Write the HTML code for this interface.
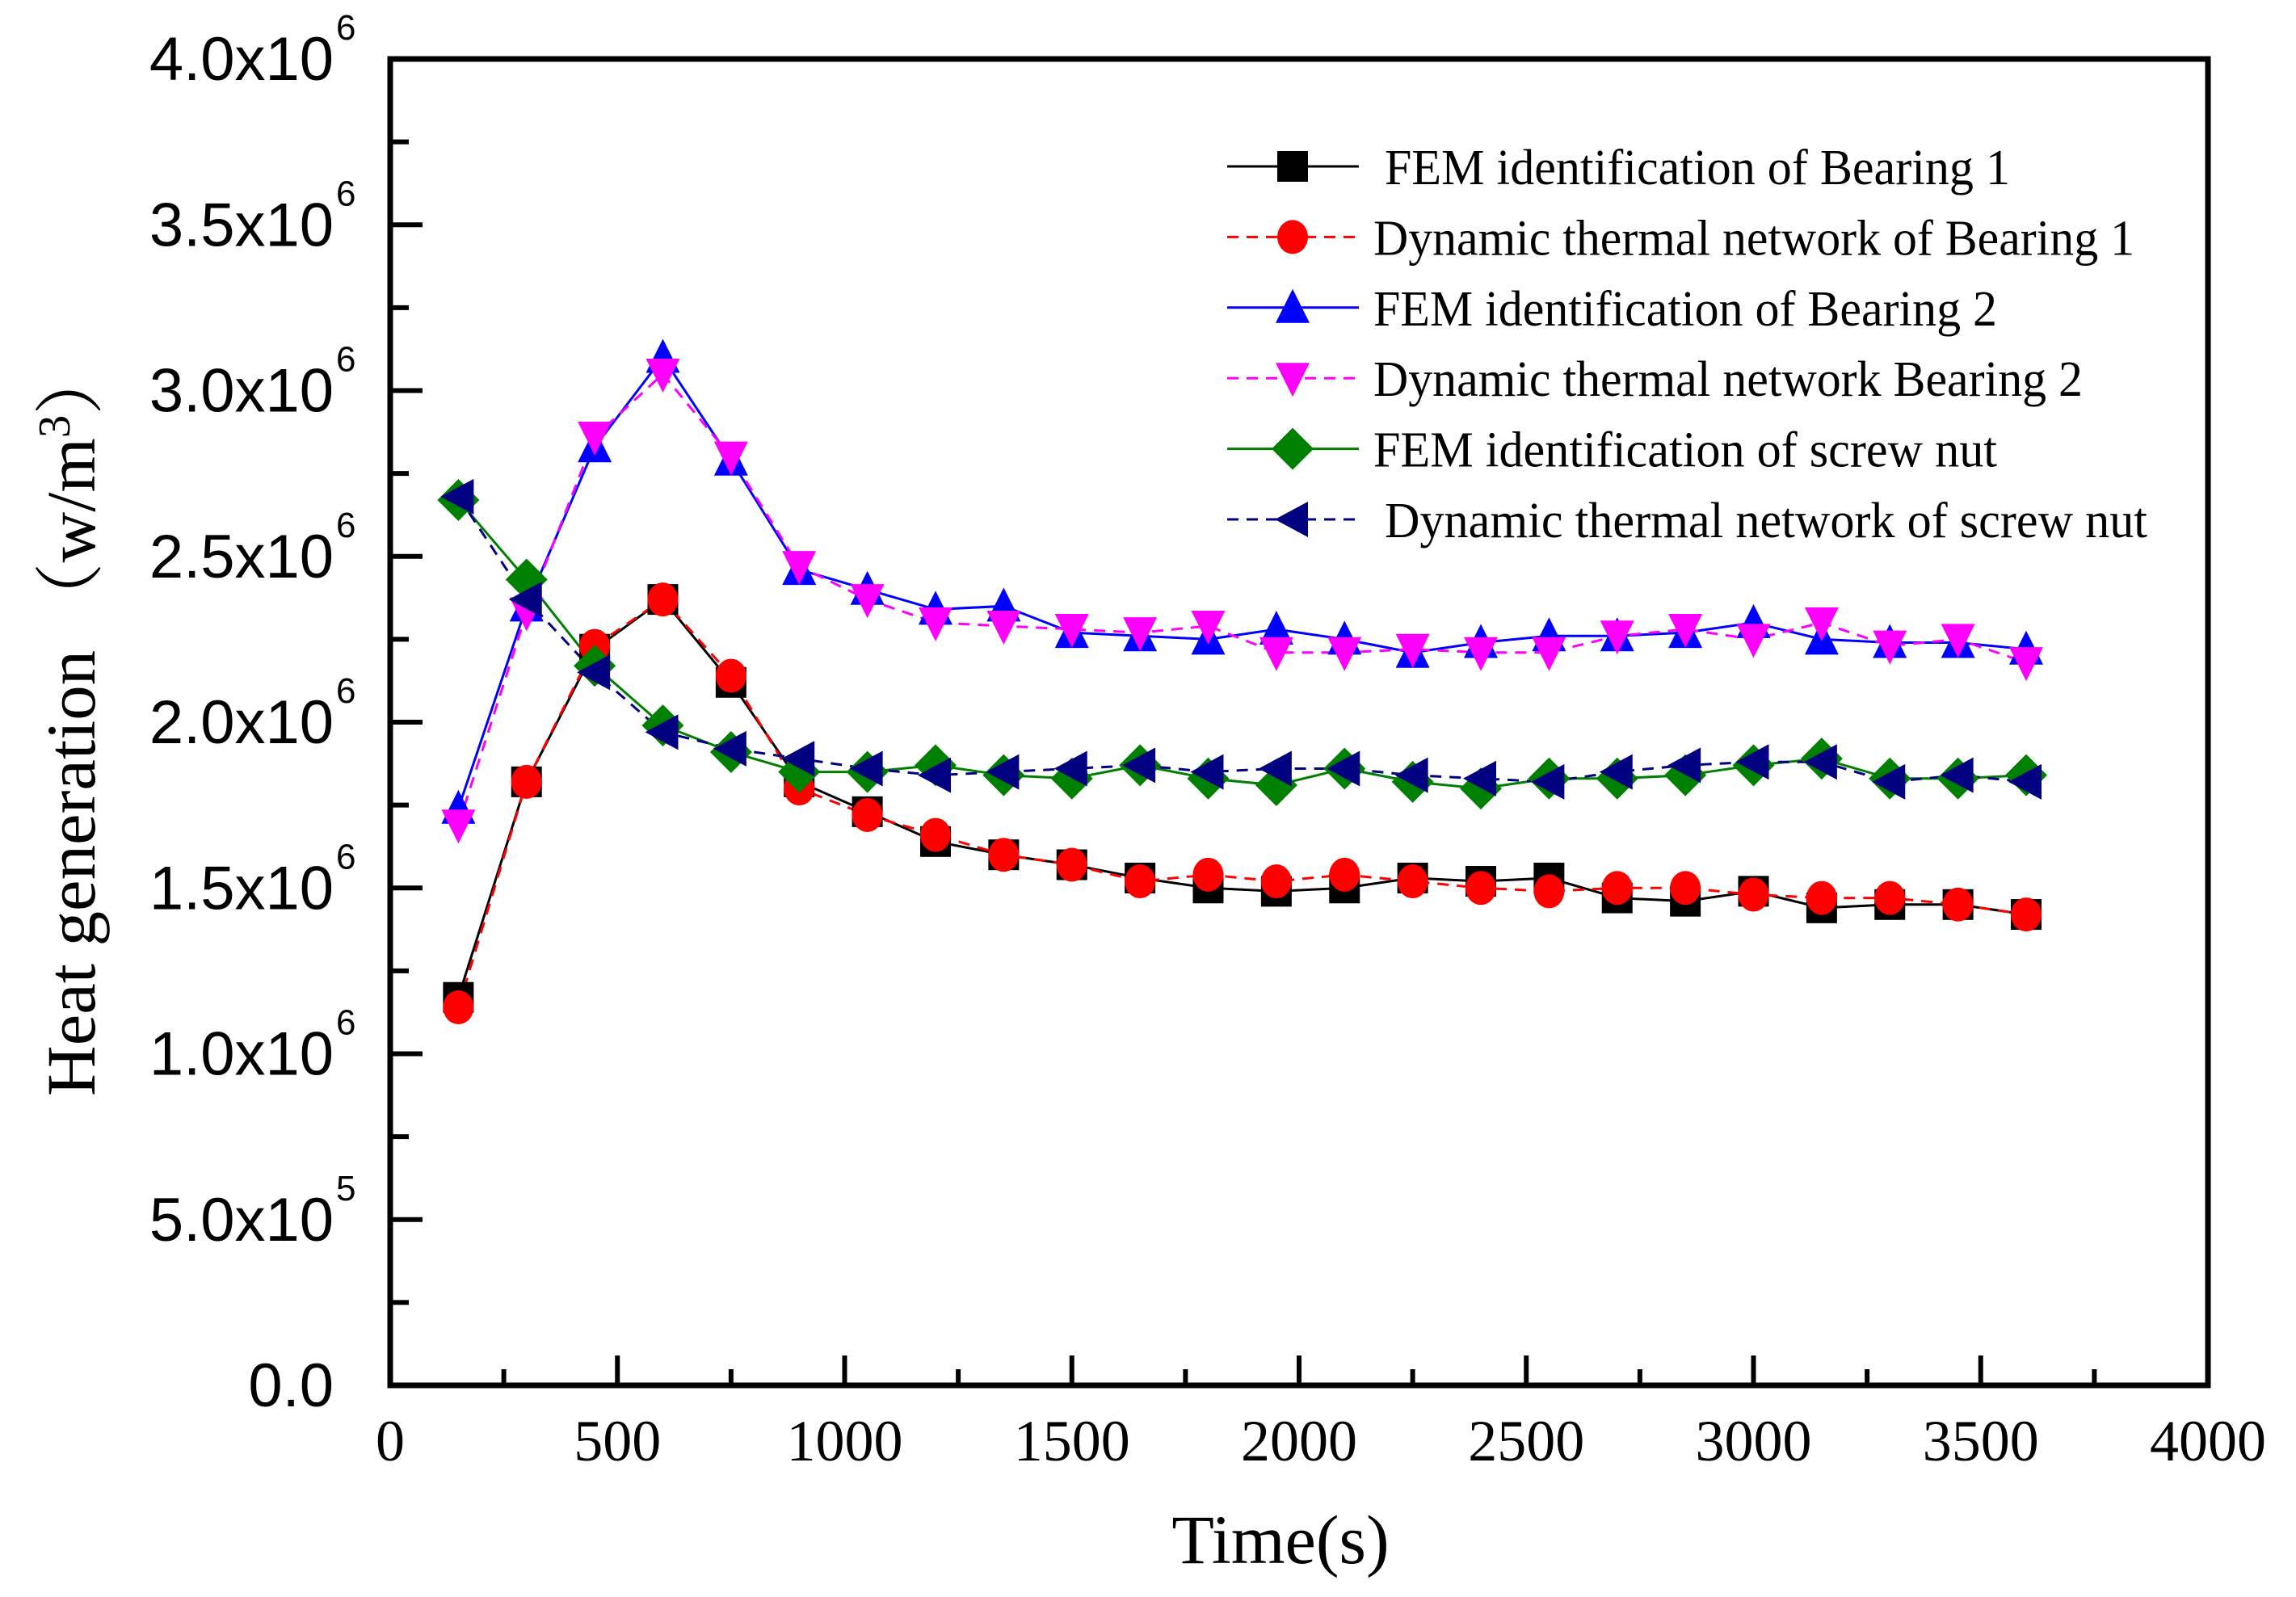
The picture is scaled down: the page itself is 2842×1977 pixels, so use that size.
<!DOCTYPE html>
<html><head><meta charset="utf-8"><style>
html,body{margin:0;padding:0;background:#fff}
svg{display:block}
</style></head><body>
<svg id="chart" width="2842" height="1977" viewBox="0 0 2842 1977" xmlns="http://www.w3.org/2000/svg">
<rect width="2842" height="1977" fill="#fff"/>
<g id="plot"></g>
<g id="axes"></g>
<g id="legend"></g>
<text x="1585" y="1935" font-family="Liberation Serif, serif" font-size="86" text-anchor="middle">Time(s)</text>
<text transform="translate(117,892) rotate(-90)" font-family="Liberation Serif, 'Noto Serif CJK SC', serif" font-size="86" text-anchor="middle" textLength="930" lengthAdjust="spacingAndGlyphs">Heat generation （w/m<tspan baseline-shift="super" font-size="56">3</tspan>）</text>
</svg>
<script>
const times = [150,300,450,600,750,900,1050,1200,1350,1500,1650,1800,1950,2100,2250,2400,2550,2700,2850,3000,3150,3300,3450,3600];
const femBearing1 = [1.17,1.82,2.22,2.37,2.12,1.82,1.73,1.64,1.60,1.57,1.53,1.50,1.49,1.50,1.53,1.52,1.53,1.47,1.46,1.49,1.44,1.45,1.45,1.42];
const dtnBearing1 = [1.14,1.82,2.23,2.37,2.14,1.80,1.72,1.66,1.60,1.57,1.52,1.54,1.52,1.54,1.52,1.50,1.49,1.50,1.50,1.48,1.47,1.47,1.45,1.42];
const femBearing2 = [1.74,2.35,2.83,3.10,2.79,2.46,2.40,2.34,2.35,2.27,2.26,2.25,2.28,2.25,2.21,2.24,2.26,2.26,2.27,2.30,2.25,2.24,2.24,2.22];
const dtnBearing2 = [1.69,2.33,2.86,3.05,2.80,2.47,2.37,2.30,2.29,2.28,2.27,2.29,2.21,2.21,2.22,2.21,2.21,2.26,2.28,2.25,2.30,2.23,2.25,2.18];
const femNut = [2.67,2.43,2.17,1.99,1.91,1.85,1.85,1.87,1.84,1.83,1.87,1.83,1.81,1.86,1.82,1.80,1.83,1.83,1.84,1.87,1.89,1.83,1.83,1.84];
const dtnNut = [2.68,2.37,2.15,1.97,1.92,1.89,1.86,1.84,1.85,1.86,1.87,1.85,1.86,1.86,1.84,1.83,1.82,1.85,1.87,1.88,1.88,1.82,1.84,1.82];
const xTicks = [0,500,1000,1500,2000,2500,3000,3500,4000];
const yTickMant = ["0.0","5.0x10","1.0x10","1.5x10","2.0x10","2.5x10","3.0x10","3.5x10","4.0x10"];
const yTickExp = ["","5","6","6","6","6","6","6","6"];
const legendLabels = ["FEM identification of Bearing 1","Dynamic thermal network of Bearing 1","FEM identification of Bearing 2","Dynamic thermal network Bearing 2","FEM identification of screw nut","Dynamic thermal network of screw nut"];

const L=483,R=2733,T=73,B=1715;
const sx=v=>L+(v/4000)*(R-L);
const sy=v=>B-(v/4)*(B-T);
const NS="http://www.w3.org/2000/svg";
function mk(tag,attrs,parent){const e=document.createElementNS(NS,tag);for(const k in attrs)e.setAttribute(k,attrs[k]);parent.appendChild(e);return e;}
const plot=document.getElementById('plot'),axes=document.getElementById('axes'),legend=document.getElementById('legend');

function marker(type,x,y,color,parent){
  const s=19;
  if(type==='square') return mk('rect',{x:x-s,y:y-s,width:2*s,height:2*s,fill:color},parent);
  if(type==='circle') return mk('ellipse',{cx:x,cy:y,rx:s,ry:s+2,fill:color},parent);
  if(type==='up') return mk('polygon',{points:`${x},${y-s-4} ${x-s-2},${y+s} ${x+s+2},${y+s}`,fill:color},parent);
  if(type==='down') return mk('polygon',{points:`${x},${y+s+4} ${x-s-2},${y-s} ${x+s+2},${y-s}`,fill:color},parent);
  if(type==='diamond') return mk('polygon',{points:`${x},${y-s-7} ${x+s+7},${y} ${x},${y+s+7} ${x-s-7},${y}`,fill:color},parent);
  if(type==='left') return mk('polygon',{points:`${x-s-3},${y} ${x+s},${y-s-3} ${x+s},${y+s+3}`,fill:color},parent);
}
const series=[
 {name:'fem-bearing-1',data:femBearing1,color:'#000000',m:'square',dash:''},
 {name:'dtn-bearing-1',data:dtnBearing1,color:'#ff0000',m:'circle',dash:'14 10'},
 {name:'fem-bearing-2',data:femBearing2,color:'#0000ff',m:'up',dash:''},
 {name:'dtn-bearing-2',data:dtnBearing2,color:'#ff00ff',m:'down',dash:'14 10'},
 {name:'fem-screw-nut',data:femNut,color:'#008000',m:'diamond',dash:''},
 {name:'dtn-screw-nut',data:dtnNut,color:'#000080',m:'left',dash:'14 10'}
];
series.forEach(s=>{
  const g=mk('g',{},plot);
  
  
  const pts=s.data.map((v,i)=>sx(times[i])+','+sy(v)).join(' ');
  const pl=mk('polyline',{points:pts,fill:'none',stroke:s.color,'stroke-width':3,'stroke-dasharray':s.dash},g);
  
  
});
series.forEach(s=>{
  s.data.forEach((v,i)=>{
    const e=marker(s.m,sx(times[i]),sy(v),s.color,plot);
    
    
  });
});
const fr=mk('rect',{x:L,y:T,width:R-L,height:B-T,fill:'none',stroke:'#000','stroke-width':7},axes);


for(let v=0;v<=4000;v+=250){
  const major=v%500===0;
  const t=mk('line',{x1:sx(v),x2:sx(v),y1:B,y2:B-(major?37:20),stroke:'#000','stroke-width':6},axes);
  
  
}
xTicks.forEach(v=>{
  const t=mk('text',{x:sx(v),y:1808,'font-family':'Liberation Serif, serif','font-size':72,'text-anchor':'middle'},axes);
  t.textContent=v;
  
  
});
for(let k=0;k<=16;k++){
  const v=k*0.25,major=k%2===0;
  const t=mk('line',{x1:L,x2:L+(major?40:23),y1:sy(v),y2:sy(v),stroke:'#000','stroke-width':6},axes);
  
  
}
yTickMant.forEach((m,i)=>{
  const y=sy(i*0.5)+26;
  const t=mk('text',{x:413,y:y,'font-family':'Liberation Sans, sans-serif','font-size':76,'text-anchor':'end'},axes);
  t.textContent=m;
  
  
  if(yTickExp[i]){
    const e=mk('text',{x:416,y:y-50,'font-family':'Liberation Sans, sans-serif','font-size':44},axes);
    e.textContent=yTickExp[i];
    
    
  }
});
const legendWidths=[774,942,772,878,772,944];
legendLabels.forEach((lab,i)=>{
  const s=series[i],y=206+i*87.4;
  const g=mk('g',{},legend);
  
  
  mk('line',{x1:1519,x2:1682,y1:y,y2:y,stroke:s.color,'stroke-width':3,'stroke-dasharray':s.dash},g);
  marker(s.m,1600,y,s.color,g);
  const tx=(i===0||i===5)?1714:1700;
  const t=mk('text',{x:tx,y:y+22,'font-family':'Liberation Serif, serif','font-size':62,textLength:legendWidths[i],lengthAdjust:'spacingAndGlyphs'},g);
  t.textContent=lab;
});
</script>
</body></html>
